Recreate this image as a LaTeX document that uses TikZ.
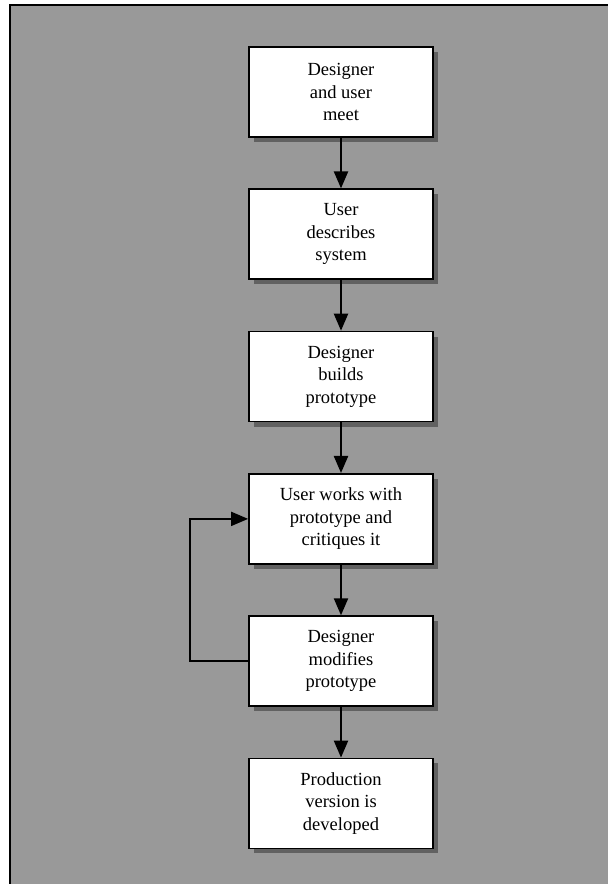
\documentclass[tikz,border=0pt]{standalone}
\usepackage{fontspec}
\setmainfont{Liberation Serif}
\usepackage{tikz}
\usetikzlibrary{arrows.meta, positioning, shadows}

\begin{document}
\begin{tikzpicture}[
    stage/.style={rectangle, draw, line width=1.8pt, fill=white, minimum width=184pt, minimum height=90pt, align=center, font=\fontsize{18.5}{22.5}\selectfont, drop shadow={shadow xshift=5pt, shadow yshift=-5pt, fill=black!62, opacity=1}},
    arr/.style={-{Triangle[length=17pt, width=14pt]}, line width=2.2pt},
    node distance=50.5pt
]
\useasboundingbox (0,0) rectangle (608pt,884pt);

% gray panel with its top and left rule
\fill[black!40] (10pt,0) rectangle (608pt,879pt);
\draw[line width=1.5pt] (10pt,0) -- (10pt,879pt) -- (608pt,879pt);

\node[stage] (meet) at (341pt,792pt) {Designer\\and user\\meet};
\node[stage, below=of meet]     (describe) {User\\describes\\system};
\node[stage, below=of describe] (build)    {Designer\\builds\\prototype};
\node[stage, below=of build]    (critique) {User works with\\prototype and\\critiques it};
\node[stage, below=of critique] (modify)   {Designer\\modifies\\prototype};
\node[stage, below=of modify]   (produce)  {Production\\version is\\developed};

\draw[arr] (meet)     -- (describe);
\draw[arr] (describe) -- (build);
\draw[arr] (build)    -- (critique);
\draw[arr] (critique) -- (modify);
\draw[arr] (modify)   -- (produce);

% feedback loop
\draw[arr, line width=1.8pt] (modify.west) -- ++(-58pt,0) |- (critique.west);
\end{tikzpicture}
\end{document}
